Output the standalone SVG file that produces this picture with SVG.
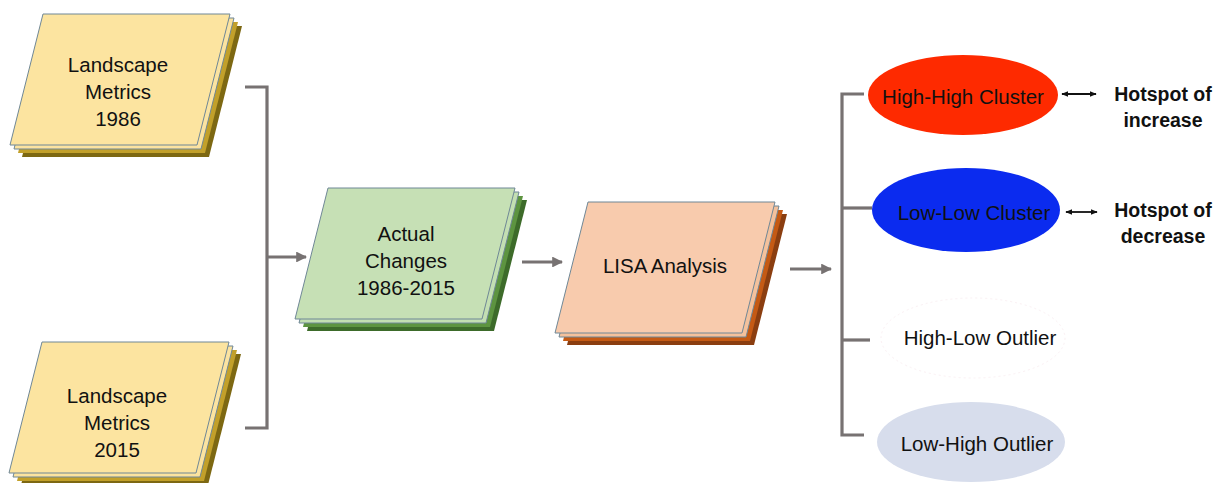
<svg xmlns="http://www.w3.org/2000/svg" width="1220" height="483" viewBox="0 0 1220 483">
<defs>
<style>
.t{font-family:"Liberation Sans",Arial,sans-serif;font-size:20.5px;fill:#111;text-anchor:middle;dominant-baseline:central}
.b{font-weight:bold;font-size:19.5px}
.ln{fill:none;stroke:#777272;stroke-width:3.2}
.dl{fill:none;stroke:#111;stroke-width:1.8}
.s{stroke:#6f8796;stroke-width:1}
</style>
<polygon id="card" points="33,0 220,0 187,131 0,131"/>
<marker id="ah" viewBox="0 0 10 10" refX="9" refY="5" markerWidth="3.4" markerHeight="3.4" orient="auto"><path d="M0,0 L10,5 L0,10 z" fill="#777272"/></marker>
<marker id="sa" viewBox="0 0 10 10" refX="9" refY="5" markerWidth="4" markerHeight="4" orient="auto-start-reverse"><path d="M0,1 L10,5 L0,9 z" fill="#111"/></marker>
</defs>
<rect width="1220" height="483" fill="#fff"/>

<g id="connectors">
<path class="ln" d="M245,87 H267 V428 H245"/>
<path class="ln" d="M267,257 H306" marker-end="url(#ah)"/>
<path class="ln" d="M522,262 H562" marker-end="url(#ah)"/>
<path class="ln" d="M790,269 H831" marker-end="url(#ah)"/>
<path class="ln" d="M864,94 H842 V435 H864"/>
<path class="ln" d="M842,208 H872"/>
<path class="ln" d="M842,340 H870"/>
<path class="dl" d="M1062,94 H1096" marker-start="url(#sa)" marker-end="url(#sa)"/>
<path class="dl" d="M1066,212 H1097" marker-start="url(#sa)" marker-end="url(#sa)"/>
</g>

<g id="lm1986" transform="translate(10,14)">
<use href="#card" x="12" y="12" fill="#7d6812"/>
<use href="#card" x="8" y="8" fill="#c2a02a"/>
<use href="#card" x="4" y="4" fill="#fbe3a0" class="s"/>
<use href="#card" fill="#fce4a0" class="s"/>
<text class="t" x="108" y="50">Landscape</text>
<text class="t" x="108" y="77">Metrics</text>
<text class="t" x="108" y="104">1986</text>
</g>

<g id="lm2015" transform="translate(9,342)">
<use href="#card" x="12" y="12" fill="#7d6812"/>
<use href="#card" x="8" y="8" fill="#c2a02a"/>
<use href="#card" x="4" y="4" fill="#fbe3a0" class="s"/>
<use href="#card" fill="#fce4a0" class="s"/>
<text class="t" x="108" y="53">Landscape</text>
<text class="t" x="108" y="80">Metrics</text>
<text class="t" x="108" y="107">2015</text>
</g>

<g id="actual" transform="translate(295,188)">
<use href="#card" x="12" y="12" fill="#3d6b2a"/>
<use href="#card" x="8" y="8" fill="#5d9440"/>
<use href="#card" x="4" y="4" fill="#c3dfb2" class="s"/>
<use href="#card" fill="#c6e0b5" class="s"/>
<text class="t" x="111" y="45">Actual</text>
<text class="t" x="111" y="72">Changes</text>
<text class="t" x="111" y="99">1986-2015</text>
</g>

<g id="lisa" transform="translate(555,202)">
<use href="#card" x="12" y="12" fill="#8b3e10"/>
<use href="#card" x="8" y="8" fill="#c55a14"/>
<use href="#card" x="4" y="4" fill="#f4c19c" class="s"/>
<use href="#card" fill="#f8cbad" class="s"/>
<text class="t" x="110" y="63">LISA Analysis</text>
</g>

<g id="hh">
<ellipse cx="963" cy="95" rx="95" ry="40" fill="#fe2a00"/>
<text class="t" x="963" y="96">High-High Cluster</text>
</g>
<g id="ll">
<ellipse cx="966" cy="210" rx="94" ry="42" fill="#0b2bef"/>
<text class="t" x="974" y="212">Low-Low Cluster</text>
</g>
<g id="hl">
<ellipse cx="973" cy="338" rx="92" ry="40" fill="#fff" stroke="#fbf1f4" stroke-width="1" stroke-dasharray="2 3"/>
<text class="t" x="980" y="337">High-Low Outlier</text>
</g>
<g id="lh">
<ellipse cx="971" cy="442" rx="94" ry="40" fill="#d7ddec"/>
<text class="t" x="977" y="443">Low-High Outlier</text>
</g>

<g id="hot1">
<text class="t b" x="1163" y="94">Hotspot of</text>
<text class="t b" x="1163" y="120">increase</text>
</g>
<g id="hot2">
<text class="t b" x="1163" y="210">Hotspot of</text>
<text class="t b" x="1163" y="236">decrease</text>
</g>
</svg>
